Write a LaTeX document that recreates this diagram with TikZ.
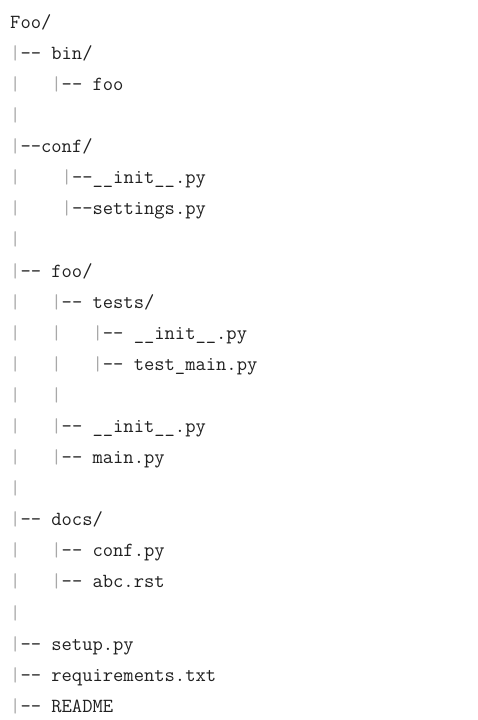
\documentclass[tikz,border=0pt]{standalone}
\usepackage{fontspec}
\definecolor{pipe}{HTML}{A8A8A8}
\definecolor{txt}{HTML}{202020}
\newcommand\pp{\textcolor{pipe}{|}}
\begin{document}
\begin{tikzpicture}[x=1pt,y=1pt,
  line/.style={anchor=base west,inner sep=0pt,text=txt,font=\ttfamily\fontsize{20}{24}\selectfont}]
\useasboundingbox (0,0) rectangle (478,-720);
\path[fill=white] (0,0) rectangle (478,-720);
\def\yy#1{-28.3-31.09*#1}
\node[line] (l0)  at (10,{\yy{0}})  {Foo/};
\node[line] (l1)  at (10,{\yy{1}})  {\pp-{}-\ bin/};
\node[line] (l2)  at (10,{\yy{2}})  {\pp\ \ \ \pp-{}-\ foo};
\node[line] (l3)  at (10,{\yy{3}})  {\pp};
\node[line] (l4)  at (10,{\yy{4}})  {\pp-{}-conf/};
\node[line] (l5)  at (10,{\yy{5}})  {\pp\ \ \ \ \pp-{}-\_\_init\_\_.py};
\node[line] (l6)  at (10,{\yy{6}})  {\pp\ \ \ \ \pp-{}-settings.py};
\node[line] (l7)  at (10,{\yy{7}})  {\pp};
\node[line] (l8)  at (10,{\yy{8}})  {\pp-{}-\ foo/};
\node[line] (l9)  at (10,{\yy{9}})  {\pp\ \ \ \pp-{}-\ tests/};
\node[line] (l10) at (10,{\yy{10}}) {\pp\ \ \ \pp\ \ \ \pp-{}-\ \_\_init\_\_.py};
\node[line] (l11) at (10,{\yy{11}}) {\pp\ \ \ \pp\ \ \ \pp-{}-\ test\_main.py};
\node[line] (l12) at (10,{\yy{12}}) {\pp\ \ \ \pp};
\node[line] (l13) at (10,{\yy{13}}) {\pp\ \ \ \pp-{}-\ \_\_init\_\_.py};
\node[line] (l14) at (10,{\yy{14}}) {\pp\ \ \ \pp-{}-\ main.py};
\node[line] (l15) at (10,{\yy{15}}) {\pp};
\node[line] (l16) at (10,{\yy{16}}) {\pp-{}-\ docs/};
\node[line] (l17) at (10,{\yy{17}}) {\pp\ \ \ \pp-{}-\ conf.py};
\node[line] (l18) at (10,{\yy{18}}) {\pp\ \ \ \pp-{}-\ abc.rst};
\node[line] (l19) at (10,{\yy{19}}) {\pp};
\node[line] (l20) at (10,{\yy{20}}) {\pp-{}-\ setup.py};
\node[line] (l21) at (10,{\yy{21}}) {\pp-{}-\ requirements.txt};
\node[line] (l22) at (10,{\yy{22}}) {\pp-{}-\ README};
\end{tikzpicture}
\end{document}
